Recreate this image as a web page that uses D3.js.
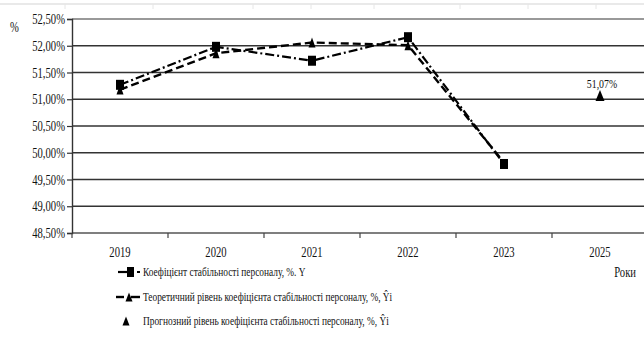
<!DOCTYPE html>
<html>
<head>
<meta charset="utf-8">
<script src="https://cdn.jsdelivr.net/npm/d3@7"></script>
<style>
  html, body { margin: 0; padding: 0; background: #fff; }
  svg { display: block; }
  text { font-family: "Liberation Serif", "Times New Roman", serif; fill: #111; }
</style>
</head>
<body>
<svg id="chart" width="644" height="340"></svg>
<script>
// Staff stability coefficient by year, %
const years = ["2019", "2020", "2021", "2022", "2023", "2025"];
const actualYears = ["2019", "2020", "2021", "2022", "2023"];
const actualValues = [51.27, 51.98, 51.72, 52.16, 49.79];
const theoryYears = ["2019", "2020", "2021", "2022", "2023"];
const theoryValues = [51.18, 51.86, 52.06, 52.01, 49.82];
const forecastYears = ["2025"];
const forecastValues = [51.07];
const yTicks = [48.5, 49.0, 49.5, 50.0, 50.5, 51.0, 51.5, 52.0, 52.5];
const legendLabels = [
  "Коефіцієнт  стабільності  персоналу, %. Y",
  "Теоретичний рівень коефіцієнта  стабільності  персоналу, %, Ŷі",
  "Прогнозний рівень коефіцієнта  стабільності  персоналу, %, Ŷі"
];

const svg = d3.select("#chart");
const plotLeft = 72, plotRight = 648, plotTop = 19, plotBottom = 233;
const SX = 0.76; // narrow serif look

const x = d3.scaleBand().domain(years).range([plotLeft, plotRight]);
const y = d3.scaleLinear().domain([48.5, 52.5]).range([plotBottom, plotTop]);
const cx = d => x(d) + x.bandwidth() / 2;

// condensed text helper
function label(g, tx, ty, str, size, anchor, sx) {
  return g.append("text")
    .attr("transform", `translate(${tx},${ty}) scale(${sx || SX},1)`)
    .attr("font-size", size)
    .attr("text-anchor", anchor || "start")
    .text(str);
}

// faint page rule above the chart
svg.append("line").attr("x1", 0).attr("x2", 644).attr("y1", 4).attr("y2", 4)
  .attr("stroke", "#e2e2e2").attr("stroke-width", 1.5);
[65, 153, 253, 311, 374, 460, 528, 596].forEach(px => {
  svg.append("line").attr("x1", px).attr("x2", px).attr("y1", 4).attr("y2", 9)
    .attr("stroke", "#e6e6e6").attr("stroke-width", 1);
});

// horizontal gridlines
svg.append("g").selectAll("line").data(yTicks).join("line")
  .attr("x1", plotLeft).attr("x2", 644)
  .attr("y1", d => y(d)).attr("y2", d => y(d))
  .attr("stroke", d => d === 48.5 ? "#555" : (d === 52.5 ? "#777" : "#333"))
  .attr("stroke-width", 1.6);

// y axis
const yAxis = svg.append("g").attr("transform", `translate(${plotLeft},0)`)
  .call(d3.axisLeft(y).tickValues(yTicks).tickSize(5).tickFormat(""));
yAxis.select(".domain").attr("stroke", "#333").attr("stroke-width", 1.4);
yAxis.selectAll(".tick line").attr("stroke", "#333").attr("stroke-width", 1.2);
const yl = svg.append("g");
yTicks.forEach(t => {
  label(yl, 65, y(t) + 5, d3.format(".2f")(t).replace(".", ",") + "%", 14, "end");
});
label(svg, 10, 32, "%", 14, "start");

// x axis ticks at band boundaries
const xAxis = svg.append("g").attr("transform", `translate(0,${plotBottom})`);
xAxis.selectAll("line").data(years.map(d => x(d)).concat([plotRight])).join("line")
  .attr("x1", d => d).attr("x2", d => d).attr("y1", 0).attr("y2", 5)
  .attr("stroke", "#444").attr("stroke-width", 1.2);
years.forEach(yr => label(svg, cx(yr), 257, yr, 14, "middle"));
label(svg, 636, 277, "Роки", 14, "end");

// series lines
const lineGen = (ys, vs) => d3.line().x((d, i) => cx(ys[i])).y(d => y(d))(vs);
svg.append("path").attr("d", lineGen(actualYears, actualValues))
  .attr("fill", "none").attr("stroke", "#000").attr("stroke-width", 2.2)
  .attr("stroke-dasharray", "9,3,2,3");
svg.append("path").attr("d", lineGen(theoryYears, theoryValues))
  .attr("fill", "none").attr("stroke", "#000").attr("stroke-width", 2.4)
  .attr("stroke-dasharray", "8,4");

const tri = (px, py, w, h) => `M${px},${py - h / 2}L${px + w / 2},${py + h / 2}L${px - w / 2},${py + h / 2}Z`;

// theoretical markers
svg.append("g").selectAll("path").data(theoryValues.slice(0, 4)).join("path")
  .attr("d", (d, i) => tri(cx(theoryYears[i]), y(d), 7, 10)).attr("fill", "#000");
// actual markers
svg.append("g").selectAll("rect").data(actualValues).join("rect")
  .attr("x", (d, i) => cx(actualYears[i]) - 4).attr("y", d => y(d) - 5)
  .attr("width", 8).attr("height", 10).attr("fill", "#000");
// forecast marker and value
forecastValues.forEach((v, i) => {
  svg.append("path").attr("d", tri(cx(forecastYears[i]), y(v), 9, 11)).attr("fill", "#000");
  label(svg, cx(forecastYears[i]) + 2, y(v) - 8, d3.format(".2f")(v).replace(".", ",") + "%", 13, "middle");
});

// legend
const lg = svg.append("g");
const ly = [272, 297, 321];
lg.append("line").attr("x1", 118).attr("x2", 132).attr("y1", ly[0]).attr("y2", ly[0])
  .attr("stroke", "#000").attr("stroke-width", 2.2);
lg.append("rect").attr("x", 127).attr("y", ly[0] - 5).attr("width", 7).attr("height", 10).attr("fill", "#000");
lg.append("line").attr("x1", 137).attr("x2", 140).attr("y1", ly[0]).attr("y2", ly[0])
  .attr("stroke", "#000").attr("stroke-width", 2);
lg.append("line").attr("x1", 116).attr("x2", 124).attr("y1", ly[1]).attr("y2", ly[1])
  .attr("stroke", "#000").attr("stroke-width", 2.4);
lg.append("line").attr("x1", 131).attr("x2", 140).attr("y1", ly[1]).attr("y2", ly[1])
  .attr("stroke", "#000").attr("stroke-width", 2.4);
lg.append("path").attr("d", tri(129, ly[1], 7, 9)).attr("fill", "#000");
lg.append("path").attr("d", tri(126, ly[2], 7, 9)).attr("fill", "#000");
legendLabels.forEach((t, i) => label(lg, 143, ly[i] + 4, t, 13, "start", 0.72));
</script>
</body>
</html>
